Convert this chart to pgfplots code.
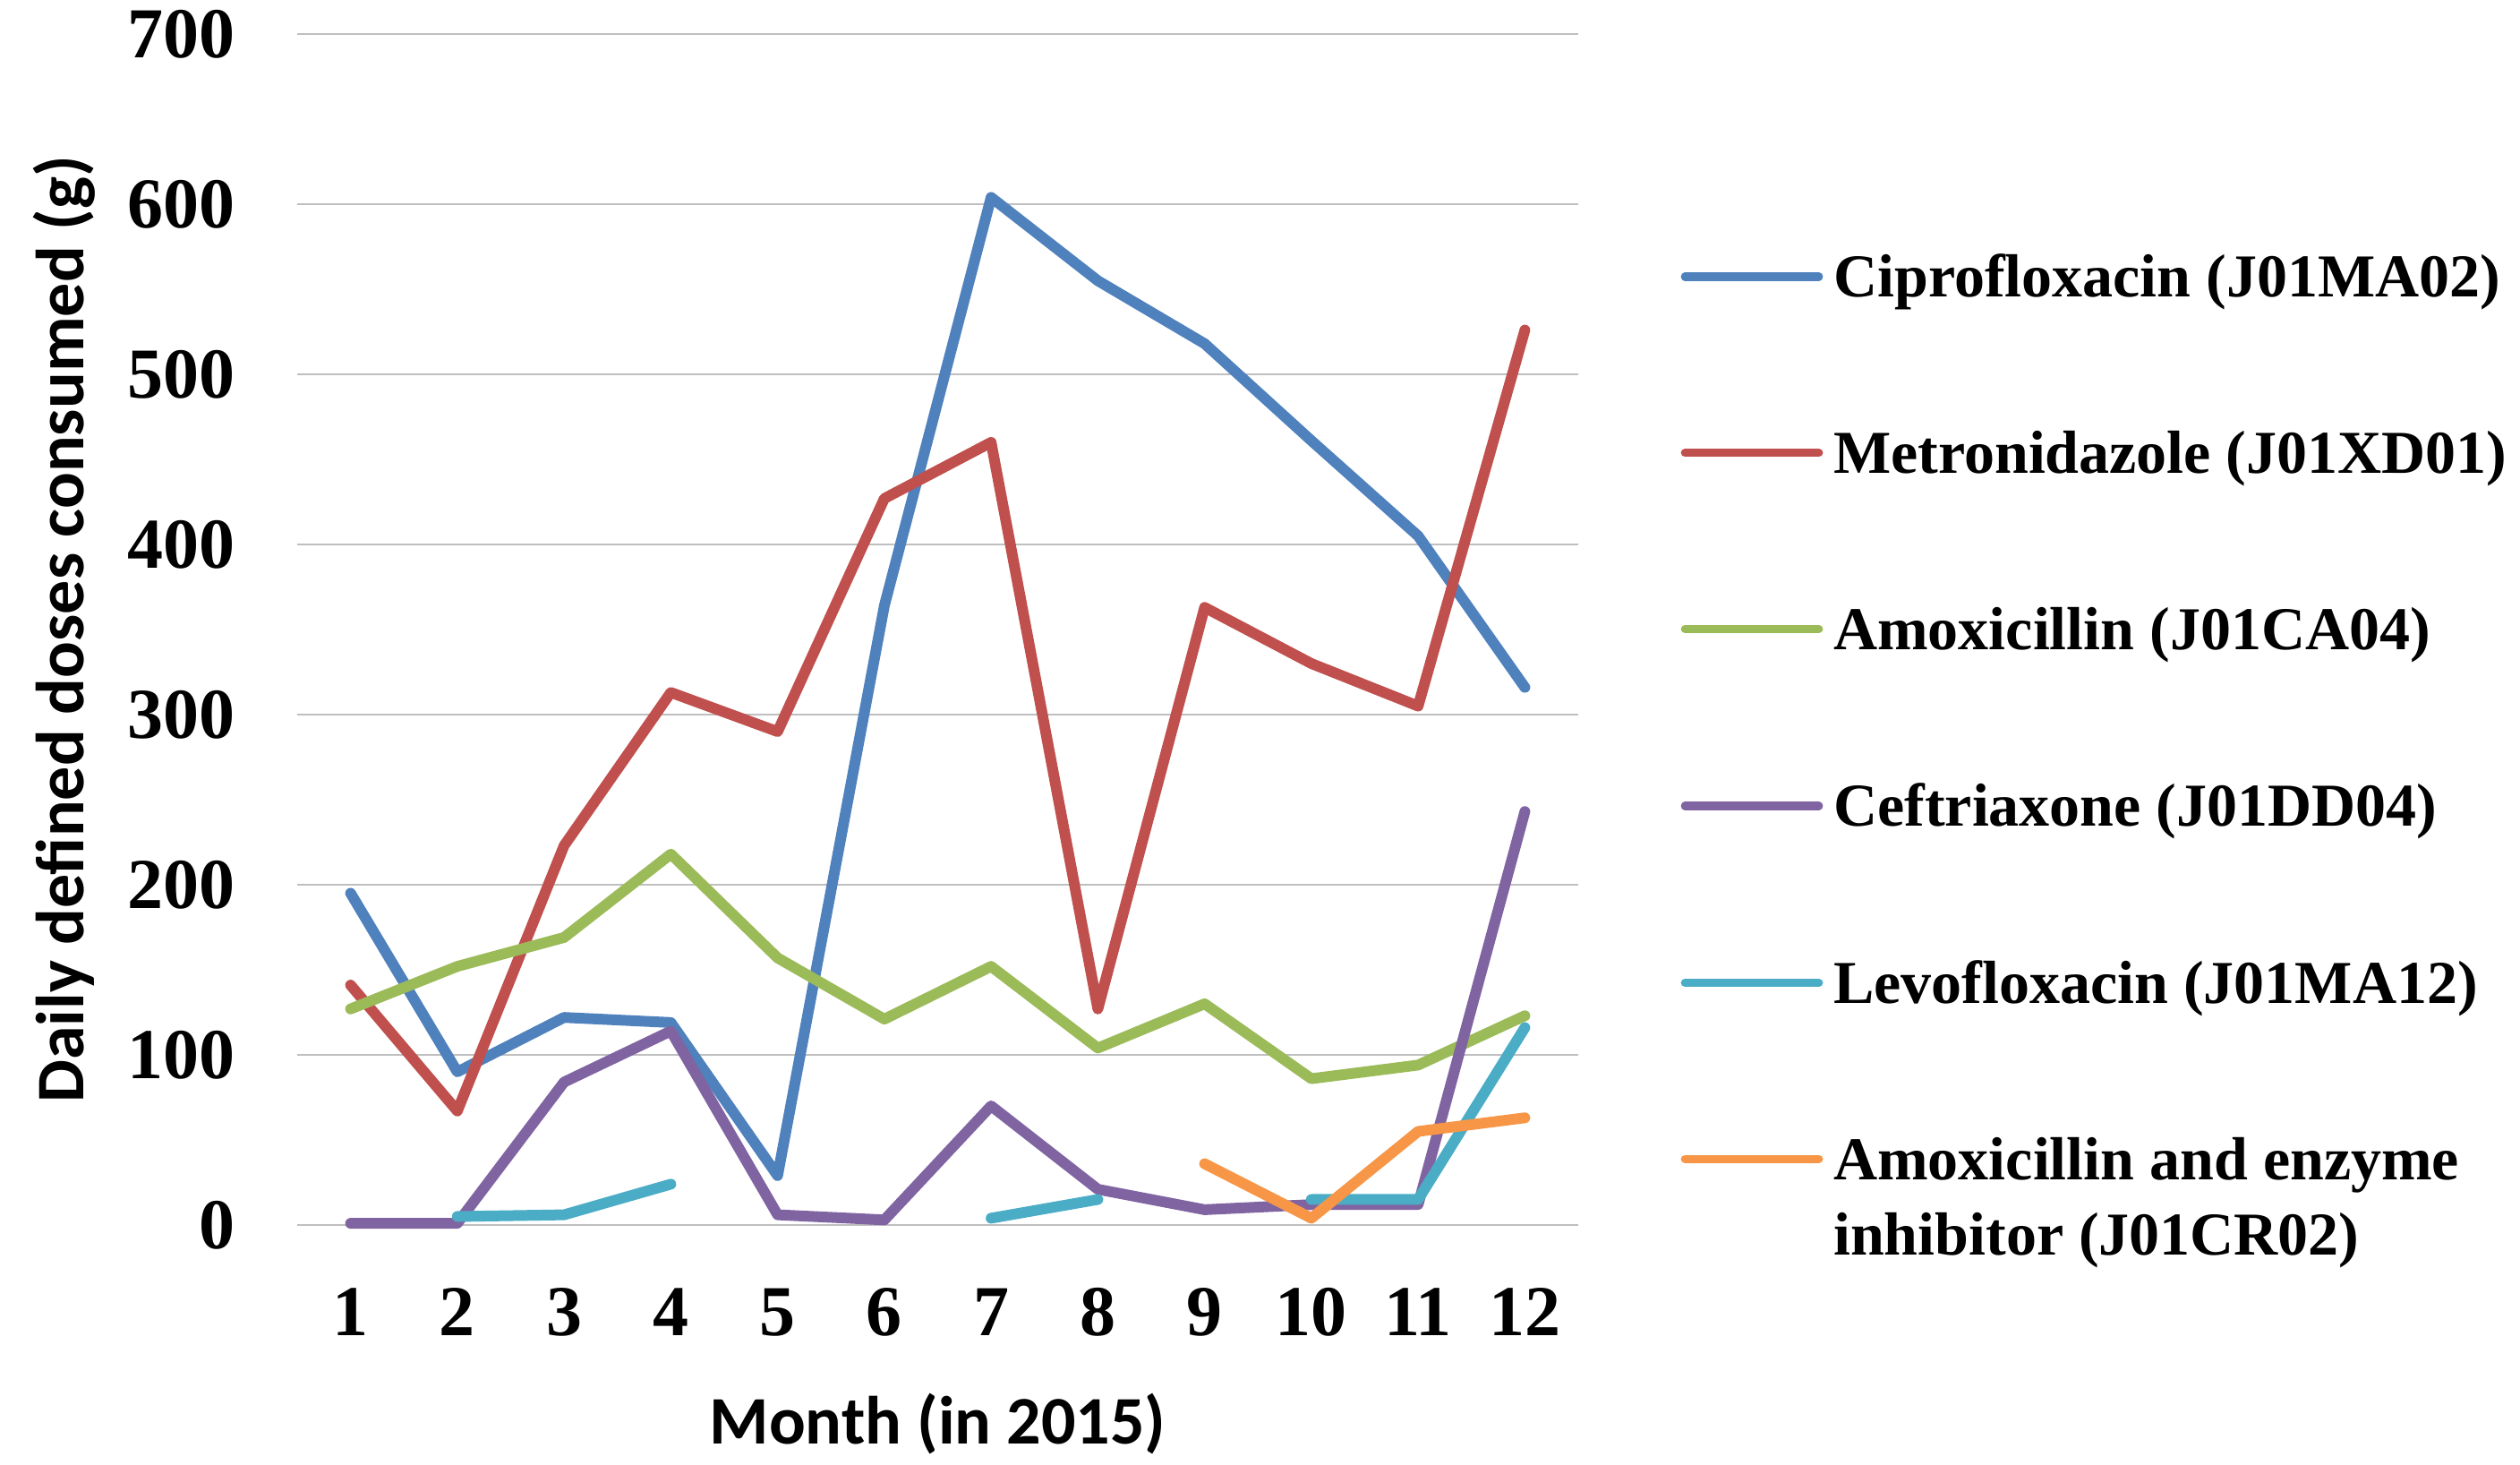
\documentclass[border=0pt]{standalone}
\usepackage{pgfplots}
\pgfplotsset{compat=1.18}
\usepackage{fontspec}
\setmainfont{Liberation Serif}
\newfontfamily\calibri{Carlito}
\definecolor{cblue}{HTML}{4F81BD}
\definecolor{cred}{HTML}{C0504D}
\definecolor{cgreen}{HTML}{9BBB59}
\definecolor{cpurple}{HTML}{8064A2}
\definecolor{caqua}{HTML}{4BACC6}
\definecolor{corange}{HTML}{F79646}
\pgfplotstableread{
m cip met amo cef lev aei
1 195 141 127 1 nan nan
2 90 67 152 1 5 nan
3 122 223 169 84 6 nan
4 119 313 218 114 24 nan
5 29 290 157 6 nan nan
6 364 427 121 3 nan nan
7 604 460 152 70 4 nan
8 555 127 104 21 15 nan
9 518 363 130 9 nan 36
10 461 330 86 12 15 4
11 405 305 94 12 15 55
12 316 526 123 243 116 63
}\datatable
\begin{document}
\begin{tikzpicture}
\path[use as bounding box] (0,0) rectangle (703.75pt,409pt);
\begin{axis}[
  at={(83pt,67pt)}, anchor=south west,
  scale only axis, width=357.75pt, height=332.5pt,
  xmin=0.5, xmax=12.5, ymin=0, ymax=700,
  xtick={1,...,12}, ytick={0,100,...,700},
  axis line style={draw=none},
  major tick length=0pt,
  ymajorgrids, grid style={line width=0.5pt, color=gray!50},
  clip=false,
  unbounded coords=jump,
  /pgf/number format/assume math mode=true,
  ticklabel style={font=\bfseries\fontsize{20}{24}\selectfont},
  yticklabel style={inner sep=0pt, anchor=east, xshift=-17.25pt},
  xticklabel style={inner sep=0pt, anchor=north, yshift=-17.5pt},
  xlabel={Month (in 2015)},
  ylabel={Daily defined doses consumed (g)},
  xlabel style={at={(axis description cs:0.5,0)}, anchor=north, inner sep=0pt, yshift=-46.75pt, font=\calibri\bfseries\fontsize{19}{22}\selectfont},
  ylabel style={at={(axis description cs:0,0.5)}, anchor=center, inner sep=0pt, yshift=65pt, font=\calibri\bfseries\fontsize{19}{22}\selectfont},
  every axis plot/.append style={line width=3pt, line cap=round, line join=round},
  legend cell align=left,
  legend style={at={(axis description cs:1.0801,0.815)}, anchor=north west,
    draw=none, inner sep=0pt, outer sep=0pt, fill=none,
    row sep=35.9pt, column sep=2.95pt,
    font=\bfseries\fontsize{17}{21}\selectfont,
    cells={anchor=base west}, nodes={inner sep=0pt}},
  legend image code/.code={\draw[#1, line width=2.3pt] (0pt,5.75pt) -- (37.4pt,5.75pt);},
]
\addplot[cblue] table[x=m, y=cip] {\datatable};
\addlegendentry{Ciprofloxacin (J01MA02)}
\addplot[cred] table[x=m, y=met] {\datatable};
\addlegendentry{Metronidazole (J01XD01)}
\addplot[cgreen] table[x=m, y=amo] {\datatable};
\addlegendentry{Amoxicillin (J01CA04)}
\addplot[cpurple] table[x=m, y=cef] {\datatable};
\addlegendentry{Ceftriaxone (J01DD04)}
\addplot[caqua] table[x=m, y=lev] {\datatable};
\addlegendentry{Levofloxacin (J01MA12)}
\addplot[corange] table[x=m, y=aei] {\datatable};
\addlegendentry{\vtop{\hbox{Amoxicillin and enzyme}\hbox{inhibitor (J01CR02)}}}
\end{axis}
\end{tikzpicture}
\end{document}
